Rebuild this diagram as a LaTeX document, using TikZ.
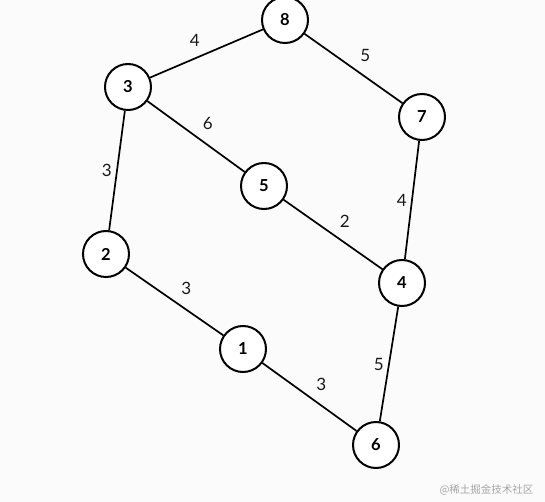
\documentclass[tikz,border=0pt]{standalone}
\usepackage{fontspec}
\setmainfont{Lato}
\newfontfamily\cjk{Noto Sans CJK SC}
\usetikzlibrary{positioning}

\begin{document}
\begin{tikzpicture}[
		  x=1pt, y=-1pt,
		  vertex/.style = {shape=circle, draw, line width=2pt, fill=white, minimum size=46pt, inner sep=0pt, font=\fontsize{16.5}{16.5}\selectfont\bfseries},
		  weight/.style = {inner sep=6pt, font=\fontsize{17}{17}\selectfont, text=black!90},
		  link/.style = {draw, line width=1.7pt}
		]
		  \fill[black!1.5] (0,0) rectangle (545,502);
		  \useasboundingbox (0,0) rectangle (545,502);

		  % vertices
		  \node[vertex] (n8) at (285,20) {8};
		  \node[vertex] (n3) at (128,87) {3};
		  \node[vertex] (n7) at (422,117) {7};
		  \node[vertex] (n5) at (264,186) {5};
		  \node[vertex] (n2) at (106,254) {2};
		  \node[vertex] (n4) at (402,283) {4};
		  \node[vertex] (n1) at (243,349) {1};
		  \node[vertex] (n6) at (376,445) {6};

		  % weighted edges
		  \path[link] (n8) -- node[weight, above left] {4} (n3);
		  \path[link] (n8) -- node[weight, above right] {5} (n7);
		  \path[link] (n3) -- node[weight, above right] {6} (n5);
		  \path[link] (n3) -- node[weight, left, inner sep=4.5pt] {3} (n2);
		  \path[link] (n7) -- node[weight, left, inner sep=4.5pt] {4} (n4);
		  \path[link] (n5) -- node[weight, above right] {2} (n4);
		  \path[link] (n2) -- node[weight, above right] {3} (n1);
		  \path[link] (n4) -- node[weight, left, inner sep=4.5pt] {5} (n6);
		  \path[link] (n1) -- node[weight, above right] {3} (n6);

		  \node[anchor=east, text=black!35, font=\cjk\fontsize{10.5}{10.5}\selectfont] (mark) at (537,490) {@稀土掘金技术社区};
		\end{tikzpicture}
\end{document}
